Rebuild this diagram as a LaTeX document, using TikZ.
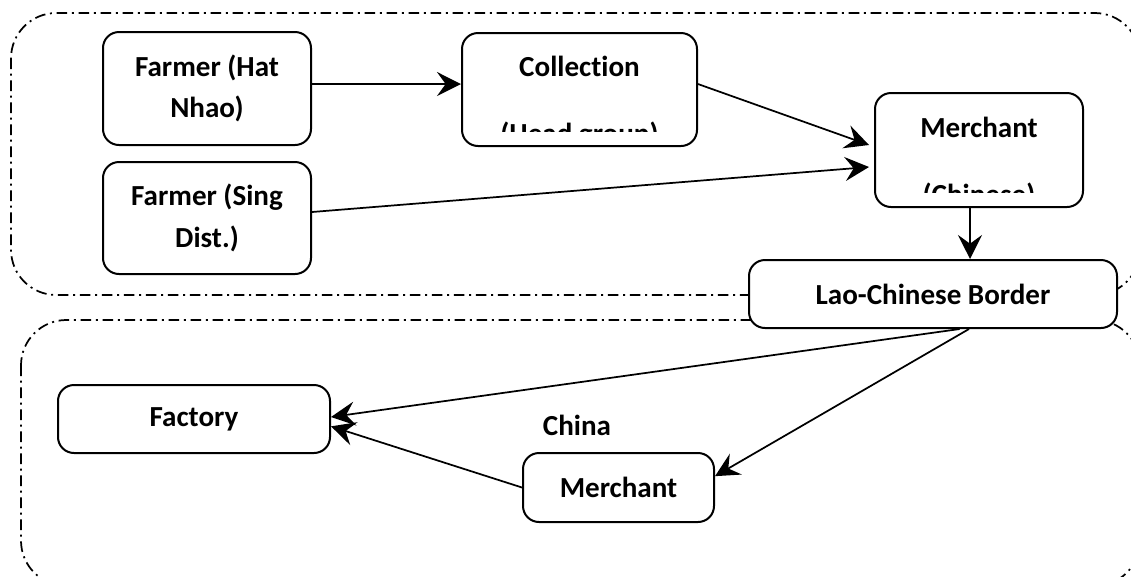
\documentclass[tikz,border=0pt]{standalone}
\usepackage{fontspec}
\setmainfont{Carlito}[Ligatures=NoCommon]
\usetikzlibrary{arrows.meta}

\begin{document}
\begin{tikzpicture}[x=0.75pt,y=-0.75pt]
\tikzset{boite/.style={draw, fill=white, rounded corners=12pt, line width=1.5pt, align=center, font=\fontsize{21.8}{31}\selectfont\bfseries}}
\tikzset{texte/.style={anchor=base, font=\fontsize{21.8}{31}\selectfont\bfseries}}
\tikzset{zone/.style={line width=1.3pt, rounded corners=34pt, dash pattern=on 8pt off 3.5pt on 1.5pt off 3.5pt}}
\tikzset{fleche/.style={line width=1.3pt, -{Stealth[length=18pt,width=18pt,inset=6.5pt]}}}
\useasboundingbox (0,0) rectangle (1131,576);
\clip (0,0) rectangle (1131,576);
\draw[zone] (11,13) rectangle (1140,295);
\draw[zone] (21,320) rectangle (1140,586);
\node[boite, minimum width=156pt, minimum height=84.75pt] (FH) at (207,88.5) {Farmer (Hat\\Nhao)};
\node[boite, minimum width=156pt, minimum height=84pt] (SD) at (207,218) {Farmer (Sing\\Dist.)};
\node[boite, minimum width=176.25pt, minimum height=84.75pt] (COL) at (579.5,89.5) {};
\node[boite, minimum width=156pt, minimum height=85.5pt] (MCH) at (979,150) {};
\node[boite, minimum width=276pt, minimum height=51pt] (BOR) at (933,294) {Lao-Chinese Border};
\node[boite, minimum width=204pt, minimum height=51pt] (FAC) at (194,419) {Factory};
\node[boite, minimum width=143.25pt, minimum height=51.75pt] (MCN) at (618.5,487.5) {Merchant};
\node[texte] (CHN) at (577,435) {China};
\begin{scope}
\clip (462,33) rectangle (697,131);
\node[texte] (COLa) at (579.5,76) {Collection};
\node[texte] (COLb) at (579.5,143) {(Head group)};
\end{scope}
\begin{scope}
\clip (875,93) rectangle (1083,192);
\node[texte] (MCHa) at (979,137) {Merchant};
\node[texte] (MCHb) at (979,204) {(Chinese)};
\end{scope}
\draw[fleche] ([yshift=3.4pt]FH.east) -- ([yshift=4.1pt]COL.west);
\draw[fleche] ([yshift=4.1pt]COL.east) -- ([xshift=-3.75pt,yshift=3.75pt]MCH.west);
\draw[fleche] ([yshift=4.5pt]SD.east) -- ([xshift=-3.75pt,yshift=-12.75pt]MCH.west);
\draw[fleche] ([xshift=-6.75pt]MCH.south) -- ([xshift=-6.75pt]MCH.south |- BOR.north);
\draw[fleche] ([xshift=20pt]BOR.south) -- ([yshift=1.5pt]FAC.east);
\draw[fleche] ([xshift=27pt]BOR.south) -- ([yshift=8.5pt]MCN.east);
\draw[fleche] (MCN.west) -- ([yshift=-5.5pt]FAC.east);
\end{tikzpicture}
\end{document}
